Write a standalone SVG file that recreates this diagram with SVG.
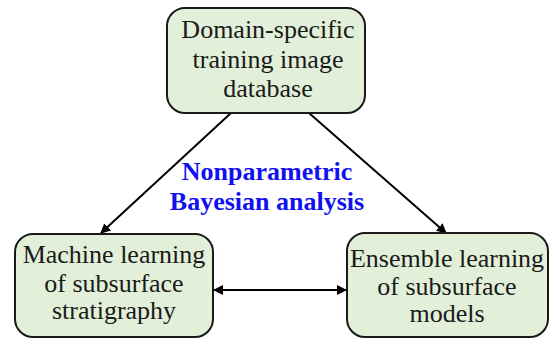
<svg xmlns="http://www.w3.org/2000/svg" width="555" height="345" viewBox="0 0 555 345">
<style>
.box{fill:#e2efd9;stroke:#1a1a1a;stroke-width:2}
.t{font-family:'Liberation Serif','DejaVu Serif',serif;font-size:26px;fill:#1a1a1a;text-anchor:middle}
.b{font-family:'Liberation Serif','DejaVu Serif',serif;font-size:26px;font-weight:bold;fill:#1010f0;text-anchor:middle}
.c{stroke:#000;stroke-width:2;fill:none}
</style>
<defs>
<marker id="ah" viewBox="0 0 10 10" refX="9" refY="5" markerWidth="5" markerHeight="5" orient="auto-start-reverse" markerUnits="strokeWidth">
<path d="M0,0 L10,5 L0,10 Z" fill="#000"/>
</marker>
</defs>
<rect width="555" height="345" fill="#fff"/>
<g id="connectors">
<line class="c" x1="231" y1="113" x2="101" y2="233" marker-end="url(#ah)"/>
<line class="c" x1="309" y1="113" x2="446" y2="233" marker-end="url(#ah)"/>
<line class="c" x1="214" y1="290" x2="346" y2="290" marker-start="url(#ah)" marker-end="url(#ah)"/>
</g>
<g id="top">
<rect class="box" x="167" y="8" width="198" height="105" rx="18"/>
<text class="t" x="268" y="38">Domain-specific</text>
<text class="t" x="268" y="68">training image</text>
<text class="t" x="268" y="97">database</text>
</g>
<g id="label">
<text class="b" x="267" y="180">Nonparametric</text>
<text class="b" x="267" y="210">Bayesian analysis</text>
</g>
<g id="left">
<rect class="box" x="15" y="234" width="198" height="103" rx="18"/>
<text class="t" x="114" y="263">Machine learning</text>
<text class="t" x="114" y="292">of subsurface</text>
<text class="t" x="114" y="319">stratigraphy</text>
</g>
<g id="right">
<rect class="box" x="347" y="233" width="201" height="104" rx="18"/>
<text class="t" x="447" y="267">Ensemble learning</text>
<text class="t" x="447" y="295">of subsurface</text>
<text class="t" x="447" y="322">models</text>
</g>
</svg>
